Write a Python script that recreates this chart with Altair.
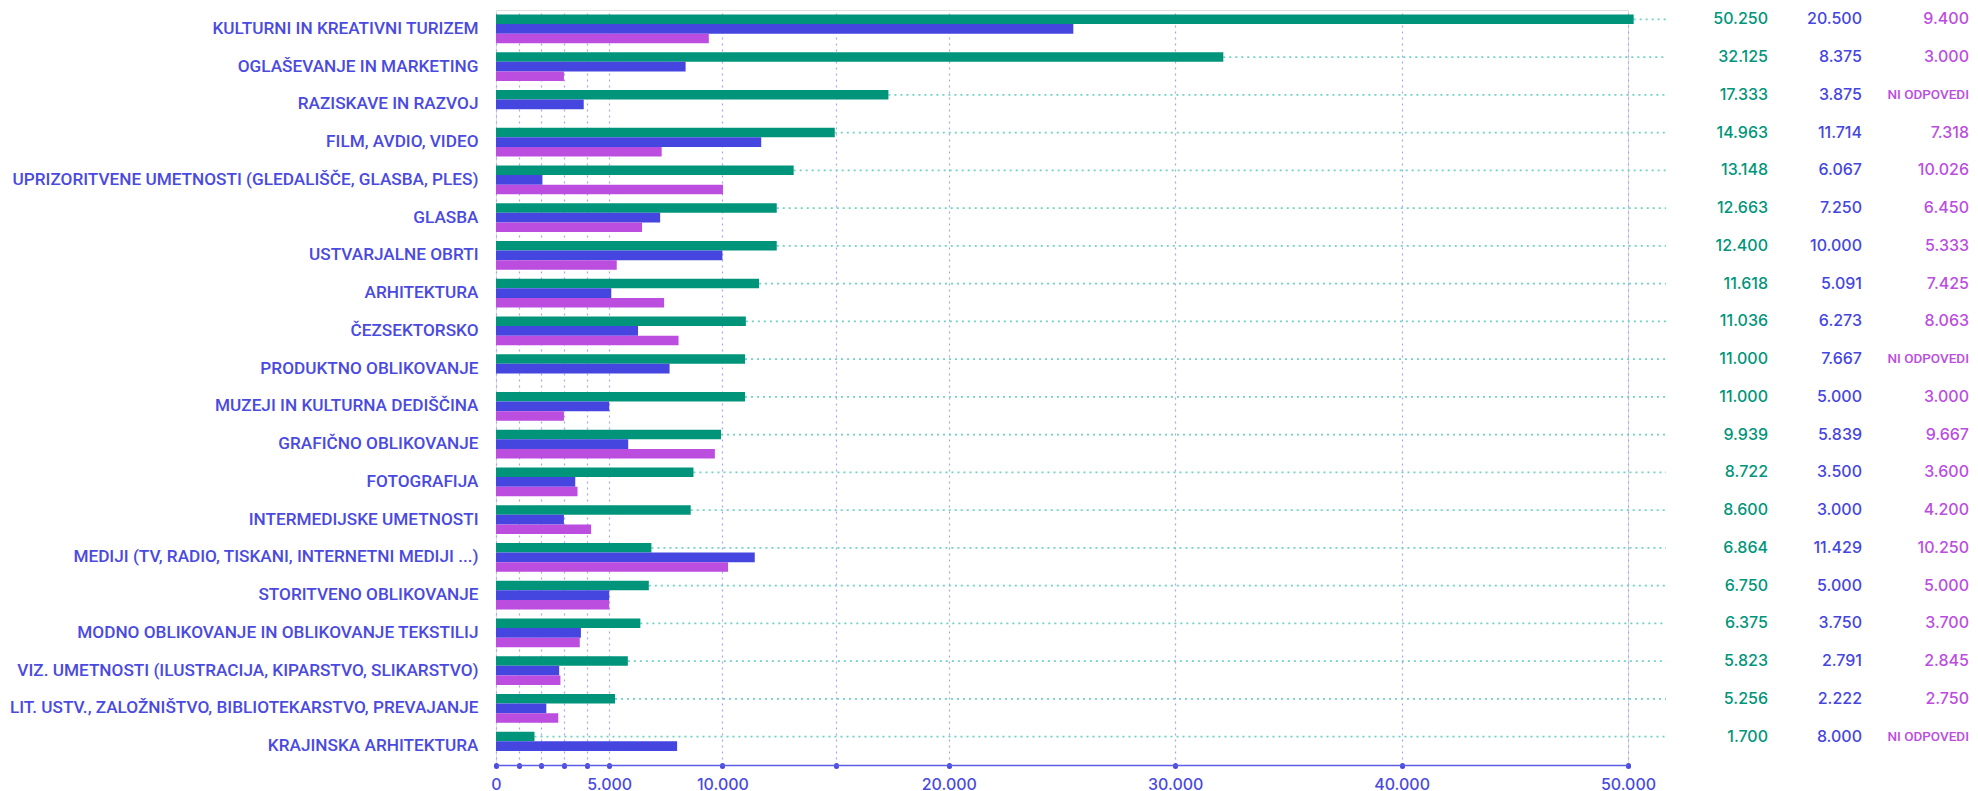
import altair as alt
import pandas as pd

categories = [
    "KULTURNI IN KREATIVNI TURIZEM",
    "OGLAŠEVANJE IN MARKETING",
    "RAZISKAVE IN RAZVOJ",
    "FILM, AVDIO, VIDEO",
    "UPRIZORITVENE UMETNOSTI (GLEDALIŠČE, GLASBA, PLES)",
    "GLASBA",
    "USTVARJALNE OBRTI",
    "ARHITEKTURA",
    "ČEZSEKTORSKO",
    "PRODUKTNO OBLIKOVANJE",
    "MUZEJI IN KULTURNA DEDIŠČINA",
    "GRAFIČNO OBLIKOVANJE",
    "FOTOGRAFIJA",
    "INTERMEDIJSKE UMETNOSTI",
    "MEDIJI (TV, RADIO, TISKANI, INTERNETNI MEDIJI ...)",
    "STORITVENO OBLIKOVANJE",
    "MODNO OBLIKOVANJE IN OBLIKOVANJE TEKSTILIJ",
    "VIZ. UMETNOSTI (ILUSTRACIJA, KIPARSTVO, SLIKARSTVO)",
    "LIT. USTV., ZALOŽNIŠTVO, BIBLIOTEKARSTVO, PREVAJANJE",
    "KRAJINSKA ARHITEKTURA",
]
# bar lengths as drawn in the picture
green_bars = [50250, 32125, 17333, 14963, 13148, 12400, 12400, 11618, 11036, 11000,
              11000, 9939, 8722, 8600, 6864, 6750, 6375, 5823, 5256, 1700]
blue_bars = [25500, 8375, 3875, 11714, 2050, 7250, 10000, 5091, 6273, 7667,
             5000, 5839, 3500, 3000, 11429, 5000, 3750, 2791, 2222, 8000]
magenta_bars = [9400, 3000, None, 7318, 10026, 6450, 5333, 7425, 8063, None,
                3000, 9667, 3600, 4200, 10250, 5000, 3700, 2845, 2750, None]
# numbers printed in the right-hand columns
green_labels = ["50.250", "32.125", "17.333", "14.963", "13.148", "12.663", "12.400", "11.618",
                "11.036", "11.000", "11.000", "9.939", "8.722", "8.600", "6.864", "6.750",
                "6.375", "5.823", "5.256", "1.700"]
blue_labels = ["20.500", "8.375", "3.875", "11.714", "6.067", "7.250", "10.000", "5.091",
               "6.273", "7.667", "5.000", "5.839", "3.500", "3.000", "11.429", "5.000",
               "3.750", "2.791", "2.222", "8.000"]
magenta_labels = ["9.400", "3.000", "NI ODPOVEDI", "7.318", "10.026", "6.450", "5.333", "7.425",
                  "8.063", "NI ODPOVEDI", "3.000", "9.667", "3.600", "4.200", "10.250", "5.000",
                  "3.700", "2.845", "2.750", "NI ODPOVEDI"]
no_answer = "NI ODPOVEDI"
series_names = ["S1", "S2", "S3"]
series_colors = ["#00957a", "#4545e0", "#bb4ddf"]
x_ticks = [0, 1000, 2000, 3000, 4000, 5000, 10000, 15000, 20000, 30000, 40000, 50000]
x_labelled = [0, 5000, 10000, 20000, 30000, 40000, 50000]

LABEL_BLUE = "#4a4ae0"
LABEL_FONT = "Roboto, Inter"
NUM_FONT = "Inter, Roboto"

rows = []
for i, c in enumerate(categories):
    for s, vals in zip(series_names, [green_bars, blue_bars, magenta_bars]):
        rows.append({"cat": c, "series": s, "value": vals[i]})
long_df = pd.DataFrame(rows)

wide_df = pd.DataFrame({
    "cat": categories,
    "series": series_names[0],
    "g": green_bars,
    "g_txt": green_labels,
    "b_txt": blue_labels,
    "m_txt": magenta_labels,
})
wide_df["m_is_na"] = wide_df["m_txt"] == no_answer

W = 1132
H = 755
Y_AXIS_W = 488

y_enc = alt.Y("cat:N", sort=categories, title=None,
              scale=alt.Scale(paddingInner=0.24, paddingOuter=0.12),
              axis=alt.Axis(labelColor=LABEL_BLUE, labelFontSize=17.2, labelFontWeight=500,
                            labelFont=LABEL_FONT,
                            labelLimit=0, labelPadding=18, domain=False, ticks=False,
                            grid=False, minExtent=Y_AXIS_W, maxExtent=Y_AXIS_W))
yoff = alt.YOffset("series:N", sort=series_names, scale=alt.Scale(domain=series_names))

label_expr = " || ".join(f"datum.value == {v}" for v in x_labelled)
x_enc = alt.X("value:Q", title=None,
              scale=alt.Scale(domain=[0, 50000], nice=False),
              axis=alt.Axis(values=x_ticks,
                            labelExpr=f"({label_expr}) ? replace(format(datum.value, ','), ',', '.') : ''",
                            labelColor=LABEL_BLUE, labelFontSize=16, labelFont=NUM_FONT,
                            labelFontWeight=500,
                            labelPadding=10, labelFlush=False,
                            domainColor="#5c5ce6", domainWidth=1.5,
                            tickColor=LABEL_BLUE, tickSize=1, tickWidth=5, tickCap="round",
                            grid=True, gridColor="#a9a4f2", gridDash=[2, 4], gridWidth=1.2))

leaders = alt.Chart(wide_df).mark_rule(color="#6fd2c2", strokeDash=[2, 4], strokeWidth=1.8).encode(
    y=y_enc,
    yOffset=yoff,
    x=alt.X("g:Q"),
    x2=alt.value(W + 38),
)

bars = alt.Chart(long_df).mark_bar(cornerRadius=0).encode(
    y=y_enc,
    yOffset=yoff,
    x=x_enc,
    color=alt.Color("series:N", sort=series_names,
                    scale=alt.Scale(domain=series_names, range=series_colors), legend=None),
)

txt_g = alt.Chart(wide_df).mark_text(align="right", baseline="middle", fontSize=16,
                                      font=NUM_FONT, fontWeight=500, color=series_colors[0]).encode(
    y=y_enc, yOffset=yoff, x=alt.value(W + 140), text="g_txt:N")
txt_b = alt.Chart(wide_df).mark_text(align="right", baseline="middle", fontSize=16,
                                      font=NUM_FONT, fontWeight=500, color=series_colors[1]).encode(
    y=y_enc, yOffset=yoff, x=alt.value(W + 234), text="b_txt:N")
txt_m = alt.Chart(wide_df).transform_filter("!datum.m_is_na").mark_text(
    align="right", baseline="middle", fontSize=16, font=NUM_FONT, fontWeight=500,
    color=series_colors[2]).encode(
    y=y_enc, yOffset=yoff, x=alt.value(W + 341), text="m_txt:N")
txt_m_na = alt.Chart(wide_df).transform_filter("datum.m_is_na").mark_text(
    align="right", baseline="middle", fontSize=13.5, font=LABEL_FONT, fontWeight=500,
    color=series_colors[2]).encode(
    y=y_enc, yOffset=yoff, x=alt.value(W + 341), text="m_txt:N")

chart = alt.layer(leaders, bars, txt_g, txt_b, txt_m, txt_m_na).properties(
    width=W, height=H, padding={"left": 0, "top": 2, "right": 0, "bottom": 0}
).configure_view(stroke=None).configure(background="white")

chart.save("out.html", embed_options={"renderer": "svg", "actions": False})
